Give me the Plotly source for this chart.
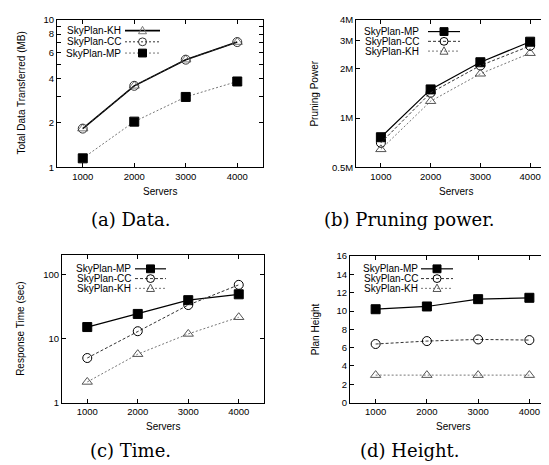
import math
import plotly.graph_objects as go

W, H = 549, 465

servers = [1000, 2000, 3000, 4000]
server_ticks = [1000, 2000, 3000, 4000]

data_kh = [1.83, 3.57, 5.37, 7.07]
data_cc = [1.83, 3.57, 5.37, 7.07]
data_mp = [1.15, 2.04, 3.0, 3.82]

prune_mp = [0.764e6, 1.50e6, 2.20e6, 2.94e6]
prune_cc = [0.706e6, 1.43e6, 2.10e6, 2.77e6]
prune_kh = [0.644e6, 1.27e6, 1.87e6, 2.50e6]

time_mp = [15.1, 24.2, 39.7, 49.0]
time_cc = [4.96, 13.0, 33.3, 68.8]
time_kh = [2.1, 5.7, 11.8, 21.5]

height_mp = [10.2, 10.5, 11.3, 11.45]
height_cc = [6.4, 6.72, 6.9, 6.83]
height_kh = [3.0, 3.0, 3.0, 3.0]

data_ticks = [1, 2, 3, 4, 5, 6, 7, 8, 9, 10]
data_ticktext = ["1", "2", "", "4", "", "6", "", "8", "", "10"]
prune_ticks = [0.5e6, 1e6, 2e6, 3e6, 4e6]
prune_ticktext = ["0.5M", "1M", "2M", "3M", "4M"]
time_ticks = [1, 10, 100]
height_ticks = [0, 2, 4, 6, 8, 10, 12, 14, 16]

def px(x):
    return x / W

def py(y):
    return 1 - y / H

SANS = "Liberation Sans, Arial, sans-serif"
SERIF = "DejaVu Serif, serif"

BLACK = "#000000"
DARK = "#333333"
GRAY = "#777777"

def sty(name, color, width, dash, symbol, mcolor):
    return dict(name=name, color=color, width=width, dash=dash, symbol=symbol, mcolor=mcolor)

KH_a = sty("SkyPlan-KH", BLACK, 1.6, "solid", "triangle-up-open", GRAY)
CC_a = sty("SkyPlan-CC", DARK, 1.0, "2px,2px", "circle-open", DARK)
MP_a = sty("SkyPlan-MP", GRAY, 1.0, "2px,2px", "square", BLACK)

MP_s = sty("SkyPlan-MP", BLACK, 1.2, "solid", "square", BLACK)
CC_s = sty("SkyPlan-CC", DARK, 1.0, "3px,2px", "circle-open", BLACK)
KH_s = sty("SkyPlan-KH", GRAY, 1.0, "2px,2px", "triangle-up-open", "#555555")

panels = [
    dict(box=(49, 6, 255, 157), ytype="log", yrange=[0, 1], yticks=data_ticks, yticktext=data_ticktext,
         series=[(data_kh, KH_a), (data_cc, CC_a), (data_mp, MP_a)],
         legend=[KH_a, CC_a, MP_a], leg_text_right=115, leg_x=(117, 152), leg_rows=[17, 28.5, 40],
         ytitle="Total Data Transferred (MB)", ytitle_x=14, caption="(a) Data.", cap_y=210),
    dict(box=(348, 6, 547, 157), ytype="log", yrange=[math.log10(0.5e6), math.log10(4e6)],
         yticks=prune_ticks, yticktext=prune_ticktext,
         series=[(prune_mp, MP_s), (prune_cc, CC_s), (prune_kh, KH_s)],
         legend=[MP_s, CC_s, KH_s], leg_text_right=413, leg_x=(420, 452), leg_rows=[18, 28, 38],
         ytitle="Pruning Power", ytitle_x=307, caption="(b) Pruning power.", cap_y=210),
    dict(box=(54, 247, 256, 398), ytype="log", yrange=[0, math.log10(200)],
         yticks=time_ticks, yticktext=[str(v) for v in time_ticks],
         series=[(time_mp, MP_s), (time_cc, CC_s), (time_kh, KH_s)],
         legend=[MP_s, CC_s, KH_s], leg_text_right=125, leg_x=(127, 158), leg_rows=[261, 271, 281],
         ytitle="Response Time (sec)", ytitle_x=13, caption="(c) Time.", cap_y=447),
    dict(box=(342, 248, 547, 398), ytype="linear", yrange=[0, 16],
         yticks=height_ticks, yticktext=[str(v) for v in height_ticks],
         series=[(height_mp, MP_s), (height_cc, CC_s), (height_kh, KH_s)],
         legend=[MP_s, CC_s, KH_s], leg_text_right=412, leg_x=(413, 445), leg_rows=[261, 271, 281],
         ytitle="Plan Height", ytitle_x=307, caption="(d) Height.", cap_y=447),
]

fig = go.Figure()
annotations = []
shapes = []

for i, p in enumerate(panels):
    n = "" if i == 0 else str(i + 1)
    l, t, r, b = p["box"]
    xa = "x" + n
    ya = "y" + n
    axis_common = dict(showline=True, linecolor=BLACK, linewidth=1, mirror="allticks",
                       ticks="inside", ticklen=4, tickwidth=1, tickcolor=BLACK,
                       showgrid=False, zeroline=False,
                       tickfont=dict(family=SANS, size=9.5, color=BLACK))
    fig.layout["xaxis" + n] = dict(domain=[px(l), px(r)], range=[500, 4500],
                                   tickvals=server_ticks, anchor=ya, **axis_common)
    fig.layout["yaxis" + n] = dict(domain=[py(b), py(t)], type=p["ytype"], range=p["yrange"],
                                   tickvals=p["yticks"], ticktext=p["yticktext"], anchor=xa,
                                   **axis_common)
    for vals, s in p["series"]:
        fig.add_trace(go.Scatter(
            x=servers, y=vals, xaxis=xa, yaxis=ya, mode="lines+markers", showlegend=False,
            line=dict(color=s["color"], width=s["width"], dash=s["dash"]),
            marker=dict(symbol=s["symbol"], size=9, color=s["mcolor"],
                        line=dict(color=s["mcolor"], width=1)),
            name=s["name"]))
    for s, yrow in zip(p["legend"], p["leg_rows"]):
        annotations.append(dict(text=s["name"], x=px(p["leg_text_right"]), y=py(yrow),
                                xref="paper", yref="paper", xanchor="right", yanchor="middle",
                                showarrow=False, font=dict(family=SANS, size=10, color=BLACK)))
        x0, x1 = p["leg_x"]
        shapes.append(dict(type="line", xref="paper", yref="paper",
                           x0=px(x0), x1=px(x1), y0=py(yrow), y1=py(yrow),
                           line=dict(color=s["color"], width=s["width"], dash=s["dash"])))
        cx = (x0 + x1) / 2
        hs = 4
        if s["symbol"] == "square":
            shapes.append(dict(type="rect", xref="paper", yref="paper",
                               x0=px(cx - hs), x1=px(cx + hs), y0=py(yrow + hs), y1=py(yrow - hs),
                               fillcolor=s["mcolor"], line=dict(color=s["mcolor"], width=1)))
        elif s["symbol"] == "circle-open":
            shapes.append(dict(type="circle", xref="paper", yref="paper",
                               x0=px(cx - hs), x1=px(cx + hs), y0=py(yrow + hs), y1=py(yrow - hs),
                               line=dict(color=s["mcolor"], width=1)))
        else:
            path = "M {} {} L {} {} L {} {} Z".format(
                px(cx - hs), py(yrow + hs * 0.8), px(cx + hs), py(yrow + hs * 0.8),
                px(cx), py(yrow - hs * 1.1))
            shapes.append(dict(type="path", xref="paper", yref="paper", path=path,
                               line=dict(color=s["mcolor"], width=1)))
    annotations.append(dict(text=p["ytitle"], x=px(p["ytitle_x"]), y=py((t + b) / 2),
                            xref="paper", yref="paper", xanchor="center", yanchor="middle",
                            textangle=-90, showarrow=False,
                            font=dict(family=SANS, size=10, color=BLACK)))
    annotations.append(dict(text="Servers", x=px((l + r) / 2), y=py(b + 25),
                            xref="paper", yref="paper", xanchor="center", yanchor="middle",
                            showarrow=False, font=dict(family=SANS, size=10, color=BLACK)))
    cap_x = 122 if i % 2 == 0 else 401
    annotations.append(dict(text=p["caption"], x=px(cap_x), y=py(p["cap_y"]),
                            xref="paper", yref="paper", xanchor="center", yanchor="middle",
                            showarrow=False, font=dict(family=SERIF, size=18, color=BLACK)))

fig.update_layout(width=W, height=H, autosize=False, margin=dict(l=0, r=0, t=0, b=0),
                  paper_bgcolor="white", plot_bgcolor="white",
                  annotations=annotations, shapes=shapes, showlegend=False)

fig.write_html("out.html")
